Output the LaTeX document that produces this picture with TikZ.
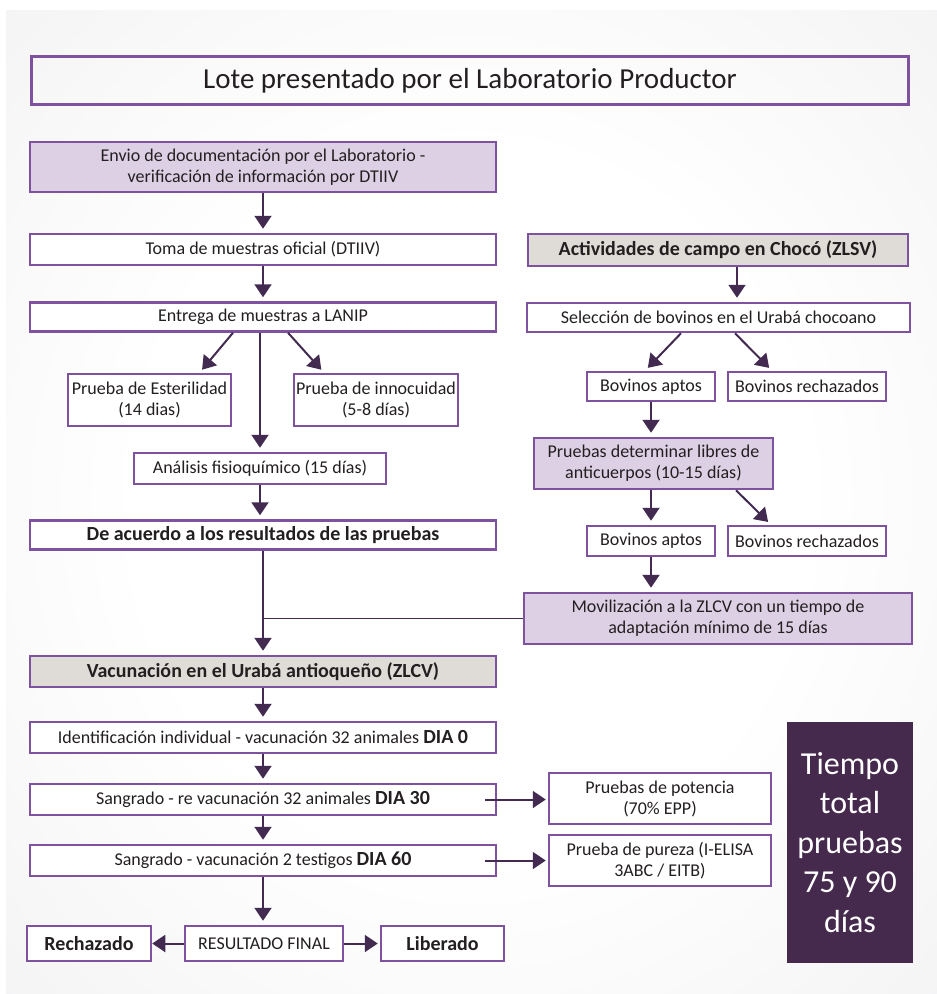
\documentclass[tikz,border=0pt]{standalone}
\usepackage{fontspec}
\setmainfont{Carlito}
\usepackage{tikz}
\usetikzlibrary{calc}
\usetikzlibrary{arrows.meta}
\tikzset{>={Triangle[width=17pt,length=13pt]}}
\definecolor{lila}{RGB}{127,82,160}
\definecolor{lilaclaro}{RGB}{221,208,229}
\definecolor{grisclaro}{RGB}{223,220,216}
\definecolor{oscuro}{RGB}{67,42,80}
\definecolor{morado}{RGB}{69,42,77}
\definecolor{texto}{RGB}{35,31,32}
\definecolor{fondo}{RGB}{228,228,231}
\pgfdeclareradialshading{fondoradial}{\pgfpoint{0bp}{0bp}}{color(0bp)=(white); color(18bp)=(white); color(62bp)=(fondo); color(72bp)=(fondo)}
\newcommand{\negrita}[1]{{\fontsize{20}{21}\selectfont\bfseries #1}}

\begin{document}
\begin{tikzpicture}[x=1pt, y=-1pt,
    box/.style = {draw=lila, line width=2.5pt, fill=white, text=texto,
        minimum height=31pt, inner sep=1pt, align=center,
        font=\fontsize{18}{21}\selectfont},
    lilabox/.style = {box, fill=lilaclaro},
    negbox/.style = {box, font=\fontsize{20}{21}\selectfont\bfseries},
    grisbox/.style = {negbox, fill=grisclaro},
    flecha/.style = {->, draw=oscuro, line width=2pt, shorten >=4pt}
  ]
  \useasboundingbox (0,0) rectangle (937,994);
  \fill[white] (0,0) rectangle (937,994);
  \shade[shading=fondoradial] (6,10) rectangle (937,994);

  \node[draw=lila, line width=3.5pt, minimum width=877pt, minimum height=48pt,
        text=texto, font=\fontsize{29}{34}\selectfont] (lote) at (470,80.5)
        {Lote presentado por el Laboratorio Productor};

  % columna izquierda
  \node[lilabox, minimum width=466pt, minimum height=50pt] (envio) at (263,167)
        {Envio de documentación por el Laboratorio -\\verificación de información por DTIIV};
  \node[box, minimum width=466pt] (toma) at (263,249.5) {Toma de muestras oficial (DTIIV)};
  \node[box, minimum width=466pt, minimum height=29pt] (entrega) at (263,317)
        {Entrega de muestras a LANIP};
  \node[box, minimum width=163pt, minimum height=52pt] (ester) at (149.5,400)
        {Prueba de Esterilidad\\(14 dias)};
  \node[box, minimum width=164pt, minimum height=52pt] (innoc) at (376,400)
        {Prueba de innocuidad\\(5-8 días)};
  \node[box, minimum width=252pt] (analisis) at (260,468.5) {Análisis fisioquímico (15 días)};
  \node[negbox, minimum width=466pt, minimum height=29pt] (acuerdo) at (263,535)
        {De acuerdo a los resultados de las pruebas};

  \node[grisbox, minimum width=466pt] (vacun) at (263,671.5)
        {Vacunación en el Urabá antioqueño (ZLCV)};
  \node[box, minimum width=466pt] (ident) at (263,737.5)
        {Identificación individual - vacunación 32 animales \negrita{DIA 0}};
  \node[box, minimum width=466pt] (sang30) at (263,799.5)
        {Sangrado - re vacunación 32 animales \negrita{DIA 30}};
  \node[box, minimum width=466pt] (sang60) at (263,860.5)
        {Sangrado - vacunación 2 testigos \negrita{DIA 60}};

  \node[negbox, minimum width=124pt, minimum height=35pt] (rech) at (89,943.5) {Rechazado};
  \node[box, minimum width=158pt, minimum height=35pt] (result) at (264,943.5) {RESULTADO FINAL};
  \node[negbox, minimum width=123pt, minimum height=35pt] (liber) at (442.5,943.5) {Liberado};

  % columna derecha
  \node[grisbox, minimum width=380pt, minimum height=32pt] (activ) at (718,250)
        {Actividades de campo en Chocó (ZLSV)};
  \node[box, minimum width=383pt, minimum height=29pt] (selec) at (718.5,317.5)
        {Selección de bovinos en el Urabá chocoano};
  \node[box, minimum width=128pt, minimum height=29pt] (apt1) at (651,386.5) {Bovinos aptos};
  \node[box, minimum width=158pt, minimum height=29pt] (rec1) at (807,386.5) {Bovinos rechazados};
  \node[lilabox, minimum width=239pt, minimum height=51pt] (prueb) at (653.5,463.5)
        {Pruebas determinar libres de\\anticuerpos (10-15 días)};
  \node[box, minimum width=128pt, minimum height=30pt] (apt2) at (651,541) {Bovinos aptos};
  \node[box, minimum width=158pt, minimum height=30pt] (rec2) at (807,541) {Bovinos rechazados};
  \node[lilabox, minimum width=388pt, minimum height=51pt] (movil) at (718,618.5)
        {Movilización a la ZLCV con un tiempo de\\adaptación mínimo de 15 días};

  \node[box, minimum width=222pt, minimum height=51pt] (poten) at (660,798.5)
        {Pruebas de potencia\\(70\% EPP)};
  \node[box, minimum width=222pt, minimum height=51pt] (pureza) at (660,860.5)
        {Prueba de pureza (I-ELISA\\3ABC / EITB)};

  \node[fill=morado, text=white, minimum width=126pt, minimum height=241pt,
        align=center, font=\fontsize{32}{39.5}\selectfont] (tiempo) at (850,842.5)
        {Tiempo\\total\\pruebas\\75 y 90\\días};

  % conectores
  \draw[flecha] (envio) -- (toma);
  \draw[flecha] (toma) -- (entrega);
  \draw[flecha] ([xshift=-30pt]entrega.south) -- ([xshift=50pt]ester.north);
  \draw[flecha] ([xshift=25pt]entrega.south) -- ([xshift=-52pt]innoc.north);
  \draw[flecha] (analisis.north |- entrega.south) -- (analisis.north);
  \draw[flecha] (analisis) -- (analisis.south |- acuerdo.north);
  \draw[flecha] (acuerdo) -- (vacun);
  \draw[oscuro, line width=1.6pt] (movil.west) -- (movil.west -| acuerdo.south);

  \foreach \a/\b in {vacun/ident, ident/sang30, sang30/sang60}
    \draw[flecha] (\a) -- (\b);
  \draw[flecha] (sang60) -- (sang60 |- result.north);
  \draw[flecha, shorten >=0pt] (result) -- (rech);
  \draw[flecha, shorten >=2pt] (result) -- (liber);
  \draw[flecha, shorten >=2pt] ([xshift=-12pt]sang30.east) -- (poten.west |- sang30.east);
  \draw[flecha, shorten >=2pt] ([xshift=-12pt]sang60.east) -- (pureza.west |- sang60.east);

  \draw[flecha] ([xshift=19pt]activ.south) -- ([xshift=18.5pt]selec.north);
  \draw[flecha] ([xshift=-37.5pt]selec.south) -- ([xshift=-6pt]apt1.north);
  \draw[flecha] ([xshift=16.5pt]selec.south) -- ([xshift=-35pt]rec1.north);
  \draw[flecha] (apt1) -- (apt1.south |- prueb.north);
  \draw[flecha] (apt2.north |- prueb.south) -- (apt2);
  \draw[flecha] ([xshift=82.5pt]prueb.south) -- ([xshift=-36pt]rec2.north);
  \draw[flecha] (apt2) -- (apt2.south |- movil.north);
\end{tikzpicture}
\end{document}
